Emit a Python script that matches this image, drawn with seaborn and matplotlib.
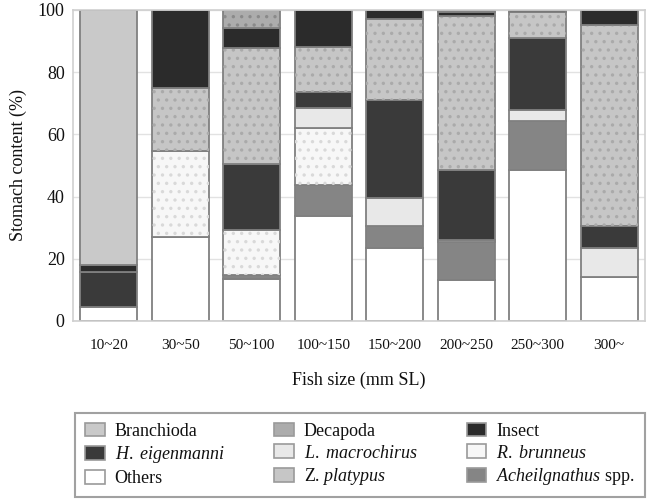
import matplotlib
matplotlib.use("Agg")
import matplotlib.pyplot as plt
from matplotlib.patches import Patch
import numpy as np
import pandas as pd
import seaborn as sns

# Fish size classes (mm SL)
sizes = ["10~20", "30~50", "50~100", "100~150", "150~200", "200~250", "250~300", "300~"]

# Stomach content composition (%) per size class, stacked bottom -> top
others        = [4.6, 27.1, 13.4, 33.7, 23.5, 13.1, 48.7, 14.2]
acheilgnathus = [0.0, 0.0, 1.3, 9.9, 7.0, 12.3, 15.5, 0.0]
r_brunneus    = [0.0, 27.4, 14.7, 18.6, 0.0, 0.0, 0.0, 0.0]
l_macrochirus = [0.0, 0.0, 0.0, 6.3, 8.9, 0.6, 3.7, 9.3]
h_eigenmanni  = [11.1, 0.0, 21.1, 5.1, 31.7, 22.7, 23.2, 7.0]
z_platypus    = [0.0, 20.4, 37.2, 14.6, 25.9, 49.5, 8.2, 64.7]
insect        = [2.3, 25.1, 6.4, 11.8, 3.0, 1.2, 0.7, 4.8]
decapoda      = [0.0, 0.0, 5.9, 0.0, 0.0, 0.6, 0.0, 0.0]
branchioda    = [82.0, 0.0, 0.0, 0.0, 0.0, 0.0, 0.0, 0.0]

# name, values, face colour, dot colour (None = plain fill)
layers = [
    ("Others", others, "#ffffff", None),
    ("Acheilgnathus", acheilgnathus, "#858585", None),
    ("R. brunneus", r_brunneus, "#f7f7f7", "#d9d9d9"),
    ("L. macrochirus", l_macrochirus, "#e8e8e8", None),
    ("H. eigenmanni", h_eigenmanni, "#3a3a3a", None),
    ("Z. platypus", z_platypus, "#c6c6c6", "#aaaaaa"),
    ("Insect", insect, "#2b2b2b", None),
    ("Decapoda", decapoda, "#acacac", "#8a8a8a"),
    ("Branchioda", branchioda, "#c9c9c9", None),
]

sns.set_theme(style="whitegrid")
plt.rcParams["font.family"] = ["Liberation Serif", "DejaVu Serif"]
plt.rcParams["mathtext.fontset"] = "custom"
plt.rcParams["mathtext.rm"] = "Liberation Serif"
plt.rcParams["mathtext.it"] = "Liberation Serif:italic"
plt.rcParams["hatch.linewidth"] = 1.2

fig = plt.figure(figsize=(6.53, 5.04), dpi=100)
ax = fig.add_axes([0.1118, 0.3631, 0.8759, 0.6171])

edge = "#808080"
bottom = np.zeros(len(sizes))
for name, vals, face, dots in layers:
    df = pd.DataFrame({"size": sizes, "pct": vals})
    n_before = len(ax.containers)
    sns.barplot(data=df, x="size", y="pct", order=sizes, bottom=bottom,
                color=face, saturation=1, width=0.8, ax=ax,
                edgecolor=edge, linewidth=1.3, errorbar=None)
    for p in ax.containers[n_before]:
        p.set_facecolor(face)
    if dots is not None:
        n_before = len(ax.containers)
        sns.barplot(data=df, x="size", y="pct", order=sizes, bottom=bottom,
                    color=face, width=0.8, ax=ax, errorbar=None)
        for p in ax.containers[n_before]:
            p.set_facecolor("none")
            p.set_edgecolor(dots)
            p.set_linewidth(0)
            p.set_hatch("..")
    bottom = bottom + np.array(vals)

ax.set_xlim(-0.5, len(sizes) - 0.5)
ax.set_ylim(0, 100)
ax.set_yticks([0, 20, 40, 60, 80, 100])
ax.grid(axis="x", visible=False)
ax.grid(axis="y", color="#e2e2e2", linewidth=1.0)
ax.set_axisbelow(True)
for s in ax.spines.values():
    s.set_color("#cfcfcf")
    s.set_linewidth(1.2)
ax.tick_params(axis="y", labelsize=13, pad=6, length=0, colors="#111111")
ax.tick_params(axis="x", labelsize=11, pad=13, length=0, colors="#111111")
ax.set_xlabel("Fish size (mm SL)", fontsize=13, labelpad=14, color="#111111")
ax.set_ylabel("Stomach content (%)", fontsize=13, labelpad=8, color="#111111")

face_of = {name: face for name, _, face, _ in layers}
entries = [
    ("Branchioda", "Branchioda"),
    ("H. eigenmanni", r"$H.\ eigenmanni$"),
    ("Others", "Others"),
    ("Decapoda", "Decapoda"),
    ("L. macrochirus", r"$L.\ macrochirus$"),
    ("Z. platypus", r"Z. $platypus$"),
    ("Insect", "Insect"),
    ("R. brunneus", r"$R.\ brunneus$"),
    ("Acheilgnathus", r"$Acheilgnathus$ spp."),
]
handles = [Patch(facecolor=face_of[k], edgecolor="#9a9a9a", linewidth=1.2) for k, _ in entries]
labels = [lab for _, lab in entries]
leg = fig.legend(handles, labels, ncol=3, loc="lower left",
                 bbox_to_anchor=(0.1148, 0.0139, 0.873, 0.163), mode="expand",
                 borderaxespad=0, fontsize=13, frameon=True, fancybox=False,
                 handlelength=1.1, handleheight=0.8, handletextpad=0.55,
                 labelspacing=0.25, borderpad=0.55, columnspacing=1.0)
leg.get_frame().set_edgecolor("#8a8a8a")
leg.get_frame().set_linewidth(1.5)
for t in leg.get_texts():
    t.set_color("#111111")

fig.savefig("out.png", dpi=100)
